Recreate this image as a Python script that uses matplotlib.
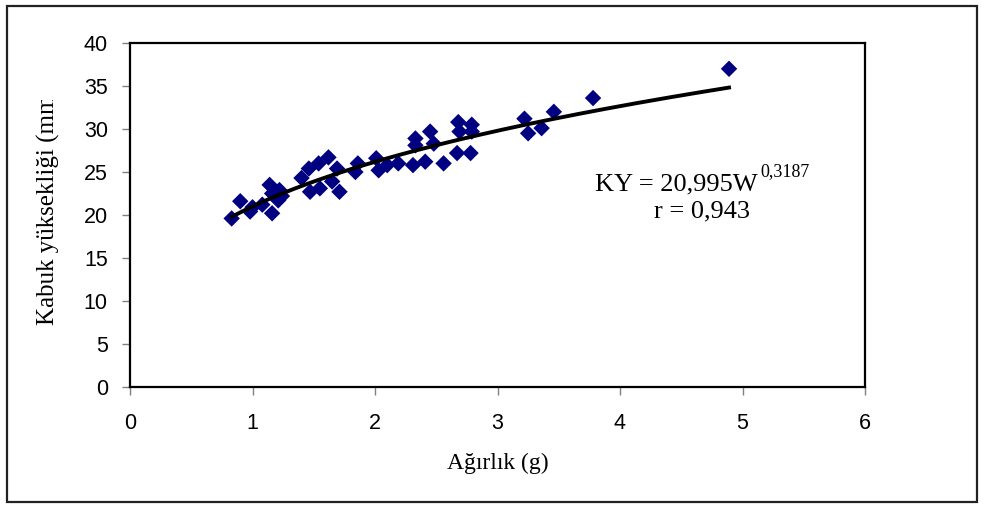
import matplotlib
matplotlib.use("Agg")
import matplotlib.pyplot as plt
import numpy as np
from matplotlib.patches import Rectangle
from matplotlib.transforms import Bbox, TransformedBbox

# weight (g) and shell height (mm)
weight = [0.83, 0.90, 0.98, 1.08, 1.14, 1.16, 1.22, 1.21, 1.16, 1.40,
          1.46, 1.54, 1.62, 1.69, 1.47, 1.55, 1.65, 1.71, 1.84, 1.86,
          2.01, 2.03, 2.10, 2.19, 2.31, 2.41, 2.56, 2.33, 2.33, 2.45,
          2.48, 2.67, 2.78, 2.68, 2.79, 2.69, 2.79, 3.22, 3.25, 3.36,
          3.46, 3.78, 4.89, 1.24, 1.00]
height = [19.6, 21.6, 20.4, 21.2, 23.5, 22.5, 22.9, 21.7, 20.2, 24.3,
          25.4, 26.0, 26.7, 25.4, 22.7, 23.1, 23.9, 22.7, 25.0, 26.0,
          26.6, 25.2, 25.8, 26.0, 25.8, 26.2, 26.0, 28.9, 28.1, 29.7,
          28.3, 27.2, 27.2, 30.8, 30.5, 29.7, 29.7, 31.2, 29.5, 30.1,
          32.0, 33.6, 37.0, 22.2, 20.9]

# power trendline shown on the chart
coef_a = 20.995
coef_b = 0.3187
eq_main = "KY = 20,995W"
eq_exp = "0,3187"
r_text = "r = 0,943"

x_ticks = [0, 1, 2, 3, 4, 5, 6]
y_ticks = [0, 5, 10, 15, 20, 25, 30, 35, 40]

W, H = 983, 507
fig = plt.figure(figsize=(W / 100, H / 100), dpi=100)
fig.patch.set_facecolor('white')

def px(x, y):
    # pixel position (from top-left) -> figure fraction
    return x / W, 1 - y / H

# outer chart border
fig.patches.append(Rectangle((7 / W, 5 / H), 970 / W, 496 / H, transform=fig.transFigure,
                             fill=False, edgecolor='#222222', linewidth=1.6))

ax = fig.add_axes([130 / W, 1 - 387 / H, 735 / W, 344 / H])
ax.scatter(weight, height, marker='D', s=70, color='#000080', edgecolors='none', zorder=3)

xf = np.linspace(min(weight), max(weight), 200)
ax.plot(xf, coef_a * xf ** coef_b, color='black', linewidth=2.8, zorder=4)

ax.set_xlim(0, 6)
ax.set_ylim(0, 40)
ax.set_xticks(x_ticks)
ax.set_yticks(y_ticks)
ax.tick_params(direction='out', length=6, width=1, color='#808080',
               labelcolor='black', labelsize=15.5)
ax.tick_params(axis='x', pad=13)
ax.tick_params(axis='y', pad=10)
for lab in ax.get_xticklabels() + ax.get_yticklabels():
    lab.set_fontfamily('Liberation Sans')
for sp in ax.spines.values():
    sp.set_linewidth(1.6)
    sp.set_color('black')

# trendline equation
fig.text(*px(758, 190), eq_main, fontsize=19, fontfamily='Liberation Serif',
         ha='right', va='baseline')
fig.text(*px(760, 176), eq_exp, fontsize=13, fontfamily='Liberation Serif',
         ha='left', va='baseline')
fig.text(*px(702, 211), r_text, fontsize=19, fontfamily='Liberation Serif',
         ha='center', va='center')

fig.text(*px(498, 463), 'Ağırlık (g)', fontsize=17, fontfamily='Liberation Serif',
         ha='center', va='center')

# y label is cut off at the top in the original chart
yl = fig.text(*px(48, 325), 'Kabuk yüksekliği (mm)', fontsize=18,
              fontfamily='Liberation Serif', rotation=90, rotation_mode='anchor',
              ha='left', va='center')
yl.set_clip_box(TransformedBbox(Bbox.from_extents(0, 0, 1, 1 - 100 / H), fig.transFigure))
yl.set_clip_on(True)

fig.savefig('out.png', dpi=100)
